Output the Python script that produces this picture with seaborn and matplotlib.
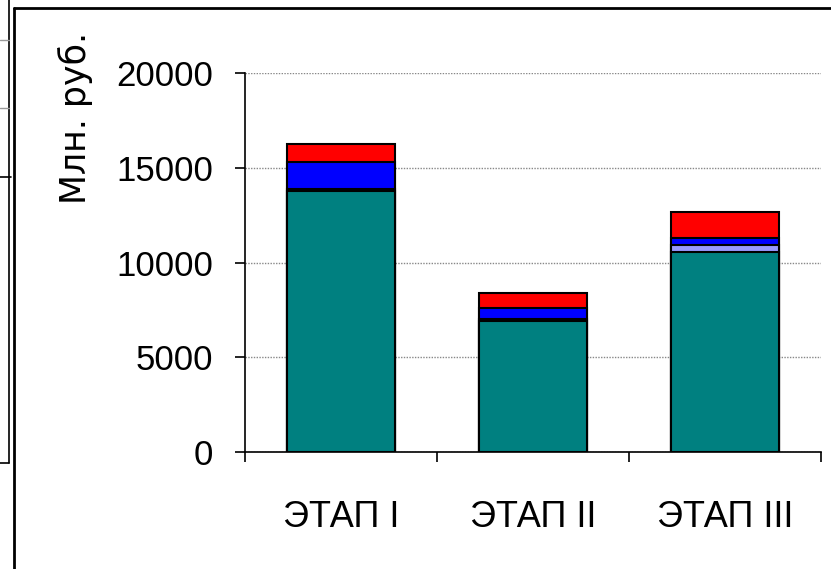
import matplotlib
matplotlib.use("Agg")
import matplotlib.pyplot as plt
import seaborn as sns
import pandas as pd
import numpy as np
from matplotlib.lines import Line2D

categories = ["ЭТАП I", "ЭТАП II", "ЭТАП III"]
teal_vals = [13780, 6920, 10550]
lav_vals = [120, 120, 380]
blue_vals = [1400, 560, 370]
red_vals = [950, 800, 1350]
yticks = [0, 5000, 10000, 15000, 20000]

series = [("teal", teal_vals, "#008080"), ("lav", lav_vals, "#9999FF"),
          ("blue", blue_vals, "#0000FF"), ("red", red_vals, "#FF0000")]

sns.set_theme(style="white")
plt.rcParams['font.family'] = ['Liberation Sans', 'DejaVu Sans']
plt.rcParams['text.color'] = 'black'

W, H = 831, 569
fig = plt.figure(figsize=(W / 100, H / 100), dpi=100)
ax = fig.add_axes([245 / W, 1 - 452 / H, 576 / W, 379 / H])

cum = np.zeros(len(categories))
layers = []
for name, vals, col in series:
    cum = cum + np.array(vals)
    layers.append((cum.copy(), col))

for tot, col in reversed(layers):
    df = pd.DataFrame({"cat": categories, "val": tot})
    sns.barplot(data=df, x="cat", y="val", color=col, saturation=1, width=0.5625,
                edgecolor="black", linewidth=1.5, ax=ax, zorder=3)

ax.set_xlim(-0.5, 2.5)
ax.set_ylim(0, 20000)
ax.set_yticks(yticks)
ax.set_yticklabels([str(v) for v in yticks], fontsize=25, color="black")
ax.set_xlabel("")
ax.set_ylabel("")
ax.yaxis.grid(True, color="#888888", linestyle=(0, (1, 1)), linewidth=1, zorder=0)
ax.xaxis.grid(False)
for s in ["top", "right"]:
    ax.spines[s].set_visible(False)
for s in ["left", "bottom"]:
    ax.spines[s].set_color("black")
    ax.spines[s].set_linewidth(1.2)
ax.tick_params(axis="y", direction="out", length=7.2, width=1.2, color="black", pad=15.5, left=True)
ax.set_xticks([-0.5, 0.5, 1.5, 2.5], minor=False)
ax.set_xticklabels([])
ax.tick_params(axis="x", direction="out", length=7, width=1.2, color="black", bottom=True)
for i, c in enumerate(categories):
    ax.text(i, -0.198, c, transform=ax.get_xaxis_transform(), ha="center", va="baseline",
            fontsize=26, color="black")

fig.text(75 / W, 1 - 118 / H, "Млн. руб.", rotation=90, ha="center", va="center", fontsize=25,
         color="black", family=["DejaVu Sans"])

def fl(x0, y0, x1, y1, color="black", lw=1.5, ls="-"):
    fig.add_artist(Line2D([x0 / W, x1 / W], [1 - y0 / H, 1 - y1 / H], color=color, lw=lw, ls=ls,
                          transform=fig.transFigure))

# outer frame
fl(14, 8, 831, 8, lw=2)
fl(14, 8, 14, 569, lw=2)
# fragments of neighbouring object on the left
fl(9, 0, 9, 463, lw=1.2)
fl(0, 40, 9, 40, color="#999999", lw=1)
fl(0, 108, 9, 108, color="#999999", lw=1)
fl(0, 177, 11, 177, lw=1.2)
fl(0, 463, 9, 463, lw=1.2)

fig.savefig("out.png", dpi=100)
